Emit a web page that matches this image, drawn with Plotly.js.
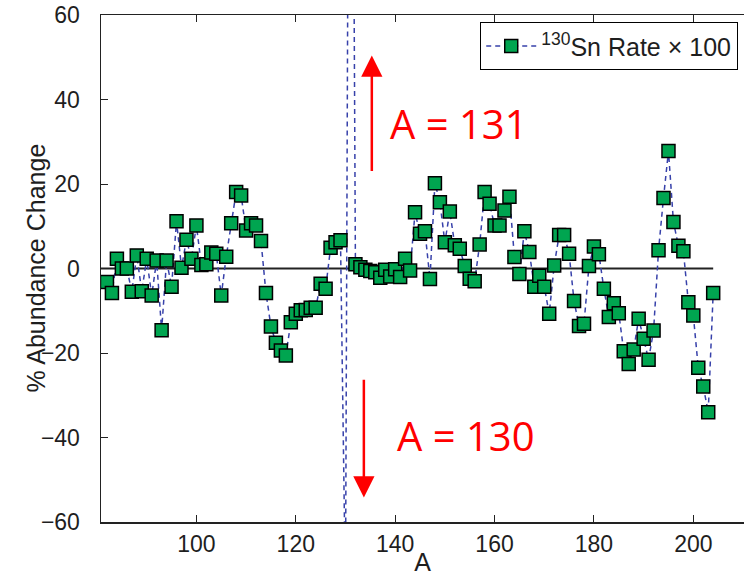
<!DOCTYPE html>
<html>
<head>
<meta charset="utf-8">
<script src="https://cdn.plot.ly/plotly-3.0.1.min.js"></script>
<style>
  html, body { margin: 0; padding: 0; background: #fff; }
  #chart { width: 744px; height: 576px; }
</style>
</head>
<body>
<div id="chart"></div>
<script>
// Mass number A
const massNumbers = [82, 83, 84, 85, 86, 87, 88, 89, 90, 91, 92, 93, 94, 95, 96, 97, 98, 99, 100,
  101, 102, 103, 104, 105, 106, 107, 108, 109, 110, 111, 112, 113, 114, 115, 116, 117, 118, 119, 120,
  121, 122, 123, 124, 125, 126, 127, 128, 129, 130, 131, 132, 133, 134, 135, 136, 137, 138, 139, 140,
  141, 142, 143, 144, 145, 146, 147, 148, 149, 150, 151, 152, 153, 154, 155, 156, 157, 158, 159, 160,
  161, 162, 163, 164, 165, 166, 167, 168, 169, 170, 171, 172, 173, 174, 175, 176, 177, 178, 179, 180,
  181, 182, 183, 184, 185, 186, 187, 188, 189, 190, 191, 192, 193, 194, 195, 196, 197, 198, 199, 200,
  201, 202, 203, 204];

// % abundance change, 130Sn rate x 100
const abundanceChange = [-3.2, -5.8, 2.3, 0.0, 0.0, -5.5, 3.1, -5.4, 2.3, -6.4, 1.9, -14.6, 1.9, -4.3, 11.2, 0.2, 6.8, 2.3, 10.2,
  0.8, 1.0, 3.8, 3.5, -6.4, 2.8, 10.7, 18.1, 17.3, 9.0, 10.7, 10.2, 6.5, -5.8, -13.7, -17.6, -19.4, -20.6, -12.7, -10.7,
  -9.9, -9.8, -9.3, -9.3, -3.6, -4.8, 4.9, 6.2, 6.7, -77, 237, 1.0, 0.3, -0.3, -0.6, -0.9, -2.2, -0.3, -1.9, -0.2,
  -2.0, 2.3, -0.5, 13.3, 8.2, 8.8, -2.5, 20.2, 15.7, 6.2, 13.5, 5.5, 4.7, 0.6, -2.4, -3.0, 5.7, 18.1, 15.3, 10.2,
  10.2, 13.7, 17.0, 2.7, -1.3, 8.8, 3.9, -4.3, -1.7, -4.3, -10.7, 0.7, 7.9, 7.9, 3.5, -7.7, -13.6, -13.1, 0.6, 5.2,
  3.4, -4.8, -11.5, -8.2, -10.6, -19.6, -22.6, -19.2, -11.9, -16.6, -21.6, -14.7, 4.3, 16.7, 27.8, 11.0, 5.4, 4.1, -8.0, -11.1,
  -23.5, -27.9, -34.0, -5.8];

// Reference line at zero change
const refLineX = [80.8, 204];
const refLineY = [0, 0];

const xTicks = [100, 120, 140, 160, 180, 200];
const yTicks = [-60, -40, -20, 0, 20, 40, 60];
const seriesName = '<sup>130</sup>Sn Rate × 100';
const xTitle = 'A';
const yTitle = '% Abundance Change';

const font = 'Liberation Sans, Arial, Helvetica, sans-serif';
const ink = '#1e1e1e';
const tickSize = 23;
const labelSize = 25;

const traces = [
  {
    x: refLineX, y: refLineY, type: 'scatter', mode: 'lines',
    line: { color: '#222', width: 2 }, showlegend: false, hoverinfo: 'skip'
  },
  {
    x: massNumbers, y: abundanceChange, type: 'scatter', mode: 'lines+markers',
    name: seriesName,
    line: { color: 'rgb(55,65,170)', width: 1.5, dash: '5px,4px' },
    marker: { symbol: 'square', size: 13, color: '#00a550', line: { color: '#000', width: 1.5 } }
  }
];

const layout = {
  width: 744, height: 576,
  margin: { l: 101, r: 0, t: 15, b: 54 },
  paper_bgcolor: '#fff', plot_bgcolor: '#fff',
  font: { family: font, size: tickSize, color: ink },
  showlegend: true,
  legend: {
    x: 0.9907, xanchor: 'right', y: 0.986, yanchor: 'top',
    bgcolor: '#fff', bordercolor: '#000', borderwidth: 1.2,
    font: { family: font, size: labelSize, color: ink },
    itemsizing: 'trace', itemwidth: 50, tracegroupgap: 0
  },
  xaxis: {
    range: [80.8, 210.2], tickvals: xTicks, ticktext: xTicks.map(String),
    ticks: 'inside', ticklen: 7, tickwidth: 1, tickcolor: '#222',
    showline: true, linecolor: '#222', linewidth: 1.5, mirror: 'ticks',
    showgrid: false, zeroline: false,
    tickfont: { family: font, size: tickSize, color: ink },
    ticklabelstandoff: 1,
    title: { text: xTitle, font: { family: font, size: labelSize, color: ink }, standoff: 4 }
  },
  yaxis: {
    range: [-60, 60], tickvals: yTicks,
    ticks: 'inside', ticklen: 7, tickwidth: 1, tickcolor: '#222',
    showline: true, linecolor: '#222', linewidth: 1.5, mirror: false,
    showgrid: false, zeroline: false,
    tickfont: { family: font, size: tickSize, color: ink },
    ticklabelstandoff: 15
  },
  annotations: [
    {
      xref: 'paper', yref: 'paper', x: -0.1026, y: 0.5, xanchor: 'center', yanchor: 'middle',
      textangle: -90, showarrow: false, text: yTitle,
      font: { family: font, size: labelSize, color: ink }
    },
    {
      x: 135.3, y: 50.4, ax: 135.3, ay: 22.7, xref: 'x', yref: 'y', axref: 'x', ayref: 'y',
      showarrow: true, arrowhead: 2, arrowsize: 1.7, arrowwidth: 2.5, arrowcolor: '#ff0000', text: ''
    },
    {
      x: 133.7, y: -54.2, ax: 133.7, ay: -26, xref: 'x', yref: 'y', axref: 'x', ayref: 'y',
      showarrow: true, arrowhead: 2, arrowsize: 1.7, arrowwidth: 2.5, arrowcolor: '#ff0000', text: ''
    },
    {
      x: 152.8, y: 34.3, xref: 'x', yref: 'y', showarrow: false,
      text: 'A = 131', font: { family: 'Open Sans, Liberation Sans, sans-serif', size: 40, color: '#ff0000' }
    },
    {
      x: 154.2, y: -39.6, xref: 'x', yref: 'y', showarrow: false,
      text: 'A = 130', font: { family: 'Open Sans, Liberation Sans, sans-serif', size: 40, color: '#ff0000' }
    }
  ]
};

Plotly.newPlot('chart', traces, layout, { displayModeBar: false, staticPlot: true });
</script>
</body>
</html>
